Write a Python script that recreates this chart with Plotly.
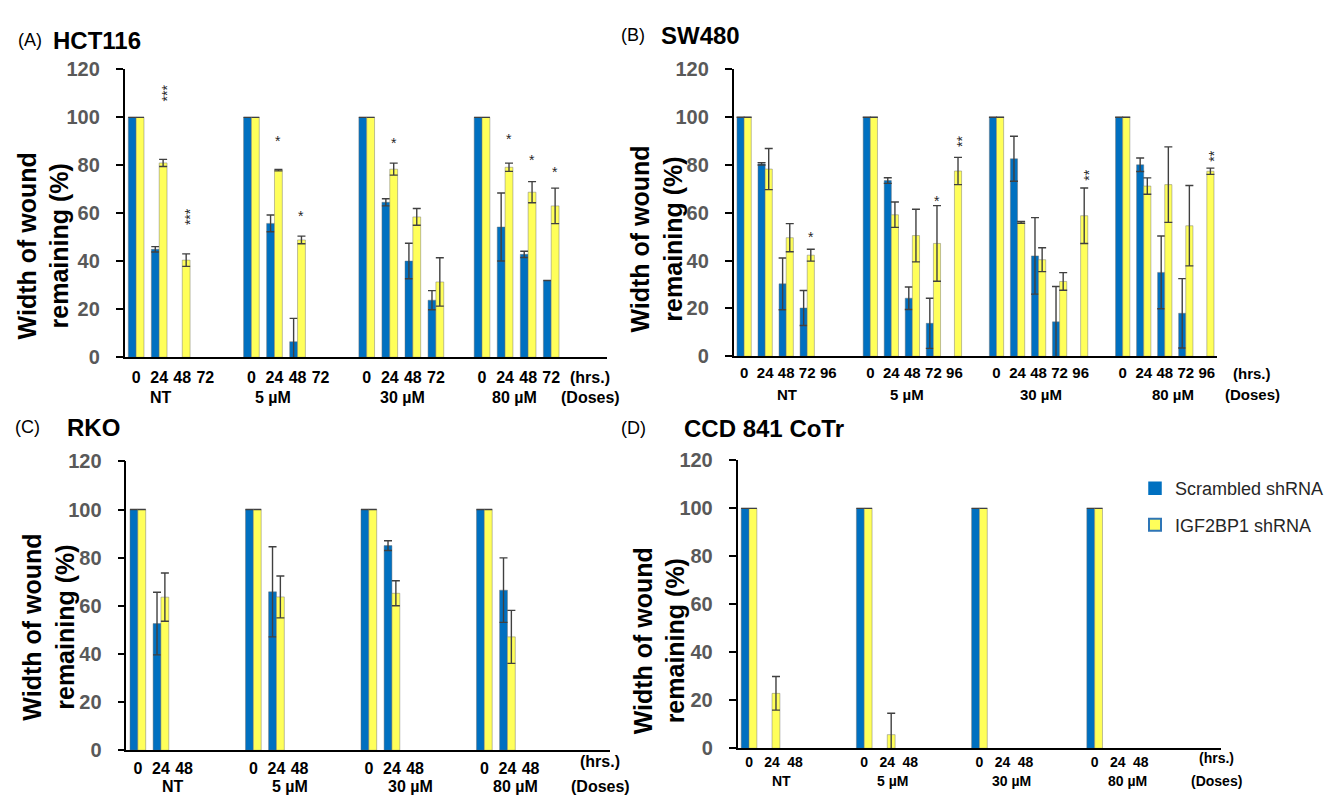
import plotly.graph_objects as go

W, H = 1335, 806
def px(x): return x / W
def py(y): return 1 - y / H

# ---------------- DATA ----------------
doses = ["NT", "5 µM", "30 µM", "80 µM"]

# Panel A: HCT116 (hrs 0,24,48,72)
A_times = ["0", "24", "48", "72"]
A_blue = [[100, 45, None, None], [100, 55.8, 6.5, None], [100, 64.6, 40.1, 23.8], [100, 54.3, 42.9, 32]]
A_blue_err = [[0, 1.1, 0, 0], [0, 3.5, 9.7, 0], [0, 1.5, 7.4, 4], [0, 14.2, 1.3, 0]]
A_yel = [[100, 81, 40.5, None], [100, 78, 48.9, None], [100, 78.4, 58.5, 31.4], [100, 79.2, 68.8, 63.1]]
A_yel_err = [[0, 1.5, 2.6, 0], [0, 0.3, 1.6, 0], [0, 2.5, 3.5, 10.1], [0, 1.7, 4.4, 7.4]]
A_stars = [(1, 110, "***"), (2, 58.5, "***"), (6, 92, "*"), (7, 60.6, "*"),
           (11, 91, "*"), (16, 92.7, "*"), (17, 84, "*"), (18, 79, "*")]
A_dose_pos = [1.1, 5.95, 11.55, 16.4]

# Panel B: SW480 (hrs 0..96)
B_times = ["0", "24", "48", "72", "96"]
B_blue = [[100, 80.5, 30.3, 20.2, None], [100, 73.5, 24.3, 13.8, None],
          [100, 82.6, 42, 14.4, None], [100, 80.1, 35.1, 18, None]]
B_blue_err = [[0, 0.5, 10.8, 7.3, 0], [0, 1.2, 4.7, 10.5, 0],
              [0, 9.4, 16, 14.8, 0], [0, 2.8, 15.2, 14.5, 0]]
B_yel = [[100, 78.3, 49.6, 42.3, None], [100, 59.2, 50.5, 47.2, 77.5],
         [100, 56, 40.4, 31.3, 58.8], [100, 71.2, 71.8, 54.6, 77.4]]
B_yel_err = [[0, 8.6, 5.9, 2.5, 0], [0, 5.3, 11, 15.8, 5.7],
             [0, 0.4, 5, 3.7, 11.6], [0, 3.4, 15.8, 16.8, 1.3]]
B_stars = [(3, 51.5, "*"), (9, 66.5, "*"), (10, 89.6, "**"), (16, 75.6, "**"), (22, 83.6, "**")]
B_dose_pos = [2.05, 7.75, 14.1, 20.4]

# Panel C: RKO (hrs 0,24,48)
C_times = ["0", "24", "48"]
C_blue = [[100, 52.6, None], [100, 65.8, None], [100, 85, None], [100, 66.5, None]]
C_blue_err = [[0, 13, 0], [0, 18.7, 0], [0, 2, 0], [0, 13.4, 0]]
C_yel = [[100, 63.6, None], [100, 63.7, None], [100, 65.2, None], [100, 47.1, None]]
C_yel_err = [[0, 10, 0], [0, 8.7, 0], [0, 5.2, 0], [0, 11, 0]]
C_dose_pos = [1.5, 6.6, 11.8, 16.35]

# Panel D: CCD 841 CoTr (hrs 0,24,48)
D_times = ["0", "24", "48"]
D_blue = [[100, None, None], [100, None, None], [100, None, None], [100, None, None]]
D_blue_err = [[0, 0, 0], [0, 0, 0], [0, 0, 0], [0, 0, 0]]
D_yel = [[100, 22.9, None], [100, 5.7, None], [100, None, None], [100, None, None]]
D_yel_err = [[0, 7, 0], [0, 8.9, 0], [0, 0, 0], [0, 0, 0]]
D_dose_pos = [1.43, 6.24, 11.4, 16.43]

series_names = ["Scrambled shRNA", "IGF2BP1 shRNA"]

# ---------------- STYLE ----------------
BLUE = "#0070C0"
YEL = "#FFFF5A"
FONT = "Liberation Sans, Arial, sans-serif"
ERRC = "#404040"

fig = go.Figure()

def flat(g):
    return [v for row in g for v in row]

panels = [
    dict(ax="", times=A_times, G=5, blue=A_blue, be=A_blue_err, yel=A_yel, ye=A_yel_err,
         dom_x=(124.6, 607), dom_y=(356, 60), rng=(-0.5, 20.42), stars=A_stars,
         dpos=A_dose_pos, tick_y=377, dose_y=397, hrs_x=590, standoff=5, fs=16,
         title=("(A)", "HCT116", 16, 51, 30), ytitle=(43, 242)),
    dict(ax="2", times=B_times, G=6, blue=B_blue, be=B_blue_err, yel=B_yel, ye=B_yel_err,
         dom_x=(733.6, 1216.5), dom_y=(355, 60), rng=(-0.5, 22.46), stars=B_stars,
         dpos=B_dose_pos, tick_y=373, dose_y=394, hrs_x=1252, standoff=2, fs=15,
         title=("(B)", "SW480", 619, 659, 25), ytitle=(657, 235)),
    dict(ax="3", times=C_times, G=5, blue=C_blue, be=C_blue_err, yel=C_yel, ye=C_yel_err,
         dom_x=(126.3, 610), dom_y=(760, 463), rng=(-0.5, 20.44), stars=[],
         dpos=C_dose_pos, tick_y=772, dose_y=797, hrs_x=600, standoff=3, fs=16,
         title=("(C)", "RKO", 13, 65, 428), ytitle=(49, 634)),
    dict(ax="4", times=D_times, G=5, blue=D_blue, be=D_blue_err, yel=D_yel, ye=D_yel_err,
         dom_x=(737.5, 1220.7), dom_y=(758, 462), rng=(-0.5, 20.47), stars=[],
         dpos=D_dose_pos, tick_y=768, dose_y=792, hrs_x=1216, standoff=0, fs=14,
         title=("(D)", "CCD 841 CoTr", 619, 682, 429), ytitle=(659, 648)),
]

annotations = []
layout_axes = {}
for p in panels:
    n = len(p["times"])
    xs = [g * p["G"] + t for g in range(4) for t in range(n)]
    xa = "x" + p["ax"]
    ya = "y" + p["ax"]
    fig.add_trace(go.Bar(
        x=xs, y=flat(p["blue"]), xaxis=xa, yaxis=ya, name=series_names[0], showlegend=False,
        marker=dict(color=BLUE, line=dict(color="rgba(110,110,110,0.45)", width=1)),
        error_y=dict(type="data", array=flat(p["be"]), color=ERRC, thickness=1.4, width=4)))
    fig.add_trace(go.Bar(
        x=xs, y=flat(p["yel"]), xaxis=xa, yaxis=ya, name=series_names[1], showlegend=False,
        marker=dict(color=YEL, line=dict(color="rgba(110,110,110,0.45)", width=1)),
        error_y=dict(type="data", array=flat(p["ye"]), color=ERRC, thickness=1.4, width=4)))

    boldf = dict(family=FONT, size=p["fs"], color="black", weight="bold")
    tickvals = xs
    ticktext = [p["times"][t] for g in range(4) for t in range(n)]
    layout_axes["xaxis" + p["ax"]] = dict(
        domain=[px(p["dom_x"][0]), px(p["dom_x"][1])], range=list(p["rng"]),
        anchor=ya, showline=True, linecolor="black", linewidth=2, ticks="",
        tickvals=tickvals, ticktext=ticktext, showgrid=False, zeroline=False,
        tickfont=boldf, ticklabelstandoff=p["standoff"], fixedrange=True)
    layout_axes["yaxis" + p["ax"]] = dict(
        domain=[py(p["dom_y"][0]), py(p["dom_y"][1])], range=[0, 120],
        anchor=xa, showline=True, linecolor="black", linewidth=1.5,
        ticks="outside", ticklen=7, tickwidth=1.5, tickcolor="black",
        tickvals=[0, 20, 40, 60, 80, 100, 120], showgrid=False, zeroline=False,
        tickfont=dict(family=FONT, size=20, color="#595959", weight="bold"),
        ticklabelstandoff=12, fixedrange=True)

    # dose labels
    for d, xpos in zip(doses, p["dpos"]):
        annotations.append(dict(x=xpos, y=py(p["dose_y"]), xref=xa, yref="paper", text=d,
                                xanchor="center", yanchor="middle", showarrow=False, font=boldf))
    annotations.append(dict(x=px(p["hrs_x"]), y=py(p["tick_y"]), xref="paper", yref="paper", text="(hrs.)",
                            xanchor="center", yanchor="middle", showarrow=False, font=boldf))
    annotations.append(dict(x=px(p["hrs_x"]), y=py(p["dose_y"]), xref="paper", yref="paper", text="(Doses)",
                            xanchor="center", yanchor="middle", showarrow=False, font=boldf))
    # stars
    for sx, sy, st in p["stars"]:
        if len(st) > 1:
            annotations.append(dict(x=sx + 0.17, y=sy, xref=xa, yref=ya, text=st, textangle=-90,
                                    xanchor="center", yanchor="middle", showarrow=False, xshift=4,
                                    font=dict(family=FONT, size=14, color="#262626")))
        else:
            annotations.append(dict(x=sx + 0.17, y=sy, xref=xa, yref=ya, text=st,
                                    xanchor="center", yanchor="middle", showarrow=False, yshift=-4,
                                    font=dict(family=FONT, size=14, color="#262626")))
    # titles
    t1, t2, x1, x2, ty = p["title"]
    annotations.append(dict(x=px(x1), y=py(ty), xref="paper", yref="paper", text=t1,
                            xanchor="left", yanchor="middle",
                            showarrow=False, font=dict(family=FONT, size=18, color="black")))
    annotations.append(dict(x=px(x2), y=py(ty), xref="paper", yref="paper", text=t2,
                            xanchor="left", yanchor="middle",
                            showarrow=False, font=dict(family=FONT, size=24, color="black", weight="bold")))
    # y title
    yx, yy = p["ytitle"]
    annotations.append(dict(x=px(yx), y=py(yy), xref="paper", yref="paper",
                            text="Width of wound<br>remaining (%)", textangle=-90, showarrow=False,
                            xanchor="center", yanchor="middle",
                            font=dict(family=FONT, size=25, color="black", weight="bold")))

# legend entries on a hidden axis
fig.add_trace(go.Bar(x=[None], y=[None], xaxis="x5", yaxis="y5", name=series_names[0],
                     legendgroup="a", marker=dict(color=BLUE, line=dict(color=BLUE, width=1.5))))
fig.add_trace(go.Bar(x=[None], y=[None], xaxis="x5", yaxis="y5", name=series_names[1],
                     legendgroup="b", marker=dict(color=YEL, line=dict(color="#2E75B6", width=2))))
layout_axes["xaxis5"] = dict(domain=[0.99, 1], visible=False, anchor="y5")
layout_axes["yaxis5"] = dict(domain=[0.99, 1], visible=False, anchor="x5")

fig.update_layout(
    width=W, height=H, margin=dict(l=0, r=0, t=0, b=0),
    paper_bgcolor="white", plot_bgcolor="white",
    barmode="group", bargap=0.32, bargroupgap=0,
    annotations=annotations,
    legend=dict(x=px(1135), y=py(472), xanchor="left", yanchor="top",
                font=dict(family=FONT, size=18, color="#262626"),
                tracegroupgap=10, bgcolor="rgba(0,0,0,0)"),
    showlegend=True,
    **layout_axes,
)

fig.write_html("out.html")
